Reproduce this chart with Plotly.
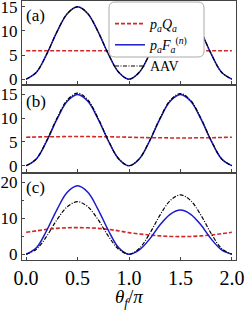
import plotly.graph_objects as go

# ---- data ----
theta = [0.0, 0.1, 0.2, 0.3, 0.4, 0.5, 0.6, 0.7, 0.8, 0.9, 1.0,
         1.1, 1.2, 1.3, 1.4, 1.5, 1.6, 1.7, 1.8, 1.9, 2.0]

a_pQ = [5.9, 5.9, 5.9, 5.9, 5.9, 5.9, 5.9, 5.9, 5.9, 5.9, 5.9,
        5.9, 5.9, 5.9, 5.9, 5.9, 5.9, 5.9, 5.9, 5.9, 5.9]
a_pF = [0.0, 1.43, 5.18, 9.82, 13.57, 15.0, 13.57, 9.82, 5.18, 1.43, 0.0,
        1.43, 5.18, 9.82, 13.57, 15.0, 13.57, 9.82, 5.18, 1.43, 0.0]
a_aav = [0.0, 1.43, 5.18, 9.82, 13.57, 15.0, 13.57, 9.82, 5.18, 1.43, 0.0,
         1.43, 5.18, 9.82, 13.57, 15.0, 13.57, 9.82, 5.18, 1.43, 0.0]

b_pQ = [6.0, 6.05, 6.1, 6.1, 6.15, 6.15, 6.15, 6.1, 6.1, 6.05, 6.0,
        5.95, 5.9, 5.9, 5.85, 5.85, 5.85, 5.9, 5.9, 5.95, 6.0]
b_pF = [0.0, 1.43, 5.18, 9.82, 13.57, 15.0, 13.57, 9.82, 5.18, 1.43, 0.0,
        1.43, 5.18, 9.82, 13.57, 15.0, 13.57, 9.82, 5.18, 1.43, 0.0]
b_aav = [0.0, 1.46, 5.29, 10.0, 13.85, 15.3, 13.85, 10.0, 5.29, 1.46, 0.0,
         1.45, 5.25, 9.95, 13.75, 15.2, 13.75, 9.95, 5.25, 1.45, 0.0]

c_pQ = [6.1, 6.5, 6.9, 7.2, 7.35, 7.4, 7.35, 7.2, 6.9, 6.5, 6.0,
        5.65, 5.35, 5.1, 4.95, 4.9, 4.95, 5.1, 5.35, 5.7, 6.1]
c_pF = [0.0, 1.8, 6.6, 12.4, 17.2, 19.0, 17.2, 12.4, 6.6, 1.8, 0.0,
        1.2, 4.2, 8.1, 11.1, 12.3, 11.1, 8.1, 4.2, 1.2, 0.0]
c_aav = [0.0, 1.4, 5.0, 9.6, 13.2, 14.6, 13.2, 9.6, 5.0, 1.4, 0.0,
         1.6, 5.7, 10.8, 14.9, 16.5, 14.9, 10.8, 5.7, 1.6, 0.0]

x_ticks = [0.0, 0.5, 1.0, 1.5, 2.0]
x_ticklabels = ["0.0", "0.5", "1.0", "1.5", "2.0"]
panel_labels = ["(a)", "(b)", "(c)"]
names = ["<i>p</i><sub><i>a</i></sub><i>Q</i><sub><i>a</i></sub>",
         "<i>p</i><sub><i>a</i></sub><i>F</i><sub><i>a</i></sub><sup>(<i>n</i>)</sup>",
         "AAV"]

RED = "#cc2a2a"
BLUE = "#1a1acc"
BLACK = "#000000"
FONT = "Liberation Serif"

W, H = 245, 313
ML, MR, MT, MB = 22, 9, 1, 53
PW, PH = W - ML - MR, H - MT - MB

def py(pix):  # pixel y -> paper y
    return (H - MB - pix) / PH

def px(pix):
    return (pix - ML) / PW

fig = go.Figure()

panels = [
    ("y3", a_pQ, a_pF, a_aav),
    ("y2", b_pQ, b_pF, b_aav),
    ("y", c_pQ, c_pF, c_aav),
]
xs = {"y3": "x3", "y2": "x2", "y": "x"}
for i, (yax, q, f, v) in enumerate(panels):
    show = (i == 0)
    fig.add_trace(go.Scatter(x=theta, y=q, xaxis=xs[yax], yaxis=yax, mode="lines",
                             line=dict(color=RED, width=1.6, dash="4px,2px", shape="spline"),
                             name=names[0], showlegend=show, legendgroup="q"))
    fig.add_trace(go.Scatter(x=theta, y=f, xaxis=xs[yax], yaxis=yax, mode="lines",
                             line=dict(color=BLUE, width=1.5, shape="spline"),
                             name=names[1], showlegend=show, legendgroup="f"))
    fig.add_trace(go.Scatter(x=theta, y=v, xaxis=xs[yax], yaxis=yax, mode="lines",
                             line=dict(color=BLACK, width=1.2, dash="4px,1.5px,1px,1.5px", shape="spline"),
                             name=names[2], showlegend=show, legendgroup="v"))

axis_common = dict(showgrid=False, zeroline=False, showline=True, mirror=True,
                   linecolor="#444", linewidth=1, ticks="inside", ticklen=3,
                   tickcolor="#444", automargin=False, ticklabeloverflow="allow")
yfont = dict(family=FONT, size=17, color="black")
xfont = dict(family=FONT, size=20, color="black")

xrange_ = [-0.04, 2.04]
fig.update_layout(
    template="none",
    font=dict(family=FONT, color="black"),
    xaxis=dict(domain=[0, 1], range=xrange_, anchor="y", tickvals=x_ticks,
               ticktext=x_ticklabels, tickfont=xfont, **axis_common),
    xaxis2=dict(domain=[0, 1], range=xrange_, anchor="y2", tickvals=x_ticks,
                showticklabels=False, **axis_common),
    xaxis3=dict(domain=[0, 1], range=xrange_, anchor="y3", tickvals=x_ticks,
                showticklabels=False, **axis_common),
    yaxis=dict(domain=[0, py(174)], range=[-1.6, 22.3], tickvals=[0, 10, 20],
               minor=dict(tickvals=[5, 15], ticks="inside", ticklen=2, tickcolor="#444"),
               tickfont=yfont, **axis_common),
    yaxis2=dict(domain=[py(172), py(86)], range=[-1.33, 16.8], tickvals=[0, 5, 10, 15],
                tickfont=yfont, **axis_common),
    yaxis3=dict(domain=[py(84), 1], range=[-1.0, 16.2], tickvals=[0, 5, 10, 15],
                tickfont=yfont, **axis_common),
)

# rounded legend frame
x0, x1, y0, y1, r = 109, 204, 2, 57, 6
rx, ry = r / PW, r / PH
X0, X1, Y0, Y1 = px(x0), px(x1), py(y1), py(y0)
path = (f"M {X0+rx},{Y1} L {X1-rx},{Y1} Q {X1},{Y1} {X1},{Y1-ry} "
        f"L {X1},{Y0+ry} Q {X1},{Y0} {X1-rx},{Y0} L {X0+rx},{Y0} "
        f"Q {X0},{Y0} {X0},{Y0+ry} L {X0},{Y1-ry} Q {X0},{Y1} {X0+rx},{Y1} Z")
fig.add_shape(type="path", path=path, xref="paper", yref="paper",
              fillcolor="white", line=dict(color="#aaaaaa", width=1), layer="above")

for lab, ypix in zip(panel_labels, [15, 101, 187]):
    fig.add_annotation(text=lab, xref="paper", yref="paper", x=px(24), y=py(ypix),
                       xanchor="left", yanchor="middle", showarrow=False,
                       font=dict(family=FONT, size=17, color="black"))

fig.add_annotation(text="<i>θ</i><sub><i>f</i></sub>/<i>π</i>", xref="paper", yref="paper",
                   x=0.5, y=py(298), xanchor="center", yanchor="middle", showarrow=False,
                   font=dict(family=FONT, size=19, color="black"))

fig.update_layout(
    width=W, height=H, margin=dict(l=ML, r=MR, t=MT, b=MB, autoexpand=False),
    plot_bgcolor="white", paper_bgcolor="white",
    legend=dict(x=px(110), y=py(8), xanchor="left", yanchor="top",
                bgcolor="rgba(0,0,0,0)", borderwidth=0,
                font=dict(family=FONT, size=14, color="black"),
                traceorder="grouped", tracegroupgap=0, itemwidth=30),
)

fig.write_html("out.html", config={"displayModeBar": False},
               post_script="document.body.style.margin='0';document.body.style.padding='0';"
                           "document.body.style.overflow='hidden';")
